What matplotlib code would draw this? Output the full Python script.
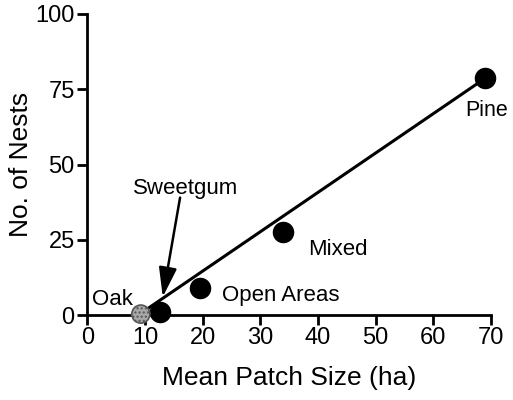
import matplotlib.pyplot as plt

plt.rcParams['font.family'] = ['Liberation Sans', 'DejaVu Sans']

# habitat data: mean patch size (ha) vs number of nests
habitats = ["Oak", "Sweetgum", "Open Areas", "Mixed", "Pine"]
patch_size = [9.3, 12.6, 19.5, 34.0, 69.0]
nests = [0.3, 1.0, 9.0, 27.5, 78.7]

# fitted line drawn on the original
fit_x = [10.6, 69.0]
fit_slope = 1.308
fit_intercept = -11.6

fig = plt.figure(figsize=(5.13, 4.0), dpi=100)
ax = fig.add_axes([0.170, 0.2125, 0.787, 0.7525])

fit_y = [fit_slope * x + fit_intercept for x in fit_x]
ax.plot(fit_x, fit_y, color="black", lw=2.2, zorder=2)

ax.scatter(patch_size[1:], nests[1:], s=210, color="black", zorder=3, clip_on=False)
ax.scatter(patch_size[:1], nests[:1], s=170, facecolor="#a8a8a8", edgecolor="#555555",
           hatch="....", lw=1.2, zorder=3, clip_on=False)

fs = 16
ax.text(4.3, 5.3, "Oak", fontsize=fs, ha="center", va="center")
ax.text(23.4, 6.6, "Open Areas", fontsize=fs, ha="left", va="center")
ax.text(38.3, 21.6, "Mixed", fontsize=fs, ha="left", va="center")
ax.text(65.6, 68.0, "Pine", fontsize=fs - 0.5, ha="left", va="center", clip_on=False)
ax.text(17.0, 42.0, "Sweetgum", fontsize=fs, ha="center", va="center")
ax.annotate("", xy=(13.1, 6.0), xytext=(16.1, 39.0),
            arrowprops=dict(arrowstyle="-|>,head_length=1.8,head_width=0.55",
                            color="black", lw=1.8, shrinkA=0, shrinkB=0))

ax.set_xlim(0, 70)
ax.set_ylim(0, 100)
ax.set_xticks(range(0, 71, 10))
ax.set_yticks([0, 25, 50, 75, 100])
for s in ["top", "right"]:
    ax.spines[s].set_visible(False)
for s in ["left", "bottom"]:
    ax.spines[s].set_linewidth(2)
ax.tick_params(direction="out", length=7, width=2, labelsize=17, pad=2)
ax.set_xlabel("Mean Patch Size (ha)", fontsize=19, labelpad=12)
ax.set_ylabel("No. of Nests", fontsize=19, labelpad=2)

fig.savefig("out.png", dpi=100)
